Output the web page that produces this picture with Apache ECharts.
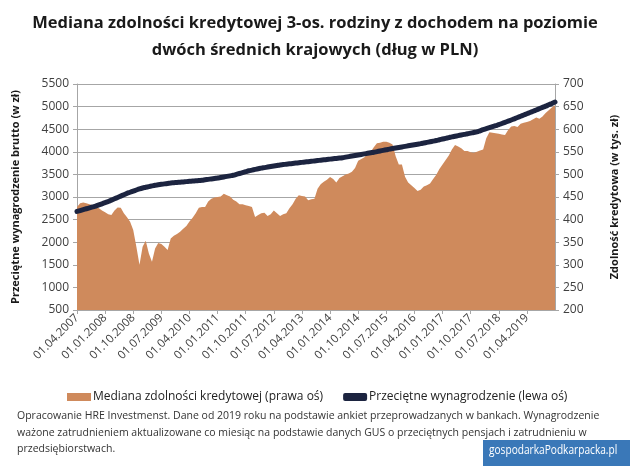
<!DOCTYPE html>
<html>
<head>
<meta charset="utf-8">
<script src="https://cdn.jsdelivr.net/npm/echarts@6/dist/echarts.min.js"></script>
<style>
html,body{margin:0;padding:0;background:#fff;}
#c{width:630px;height:468px;}
</style>
</head>
<body>
<div id="c"></div>
<script>
// Categories: monthly dates from 01.04.2007 to 01.01.2020
var startYear = 2007, startMonth = 4, nMonths = 154;
var categories = [];
for (var k = 0; k < nMonths; k++) {
  var m = (startMonth - 1 + k) % 12 + 1;
  var y = startYear + Math.floor((startMonth - 1 + k) / 12);
  categories.push('01.' + (m < 10 ? '0' + m : m) + '.' + y);
}

// Median credit capacity (thousand PLN, right axis)
var creditCapacity = [
  428,436,438,436,434,432,428,425,420,416,
  412,410,420,427,426,414,405,395,377,340,
  300,340,353,325,307,336,348,346,340,333,
  358,364,368,373,380,386,396,404,414,426,
  428,428,440,446,449,450,451,457,454,451,
  444,440,434,434,432,430,428,406,410,414,
  415,408,412,420,414,408,412,414,425,434,
  446,454,452,451,443,445,446,468,478,484,
  488,494,490,482,492,496,500,502,506,514,
  530,534,538,545,550,560,569,570,572,572,
  570,566,540,522,522,495,482,476,470,463,
  466,473,476,480,490,499,512,522,532,542,
  555,565,562,558,552,552,549,548,550,553,
  555,580,593,592,591,590,588,587,598,606,
  607,605,612,614,616,618,622,626,623,628,
  636,642,648,653
];

// Average gross wage (PLN, left axis)
var avgWage = [
  2680,2700,2720,2740,2760,2780,2800,2825,2850,2875,
  2900,2930,2960,2990,3020,3050,3080,3105,3130,3155,
  3180,3200,3215,3230,3245,3260,3270,3280,3290,3300,
  3310,3316,3322,3328,3334,3340,3346,3352,3358,3364,
  3370,3380,3390,3400,3410,3420,3432,3444,3456,3468,
  3480,3500,3520,3540,3560,3580,3595,3610,3625,3638,
  3650,3662,3674,3686,3698,3710,3718,3726,3734,3742,
  3750,3758,3766,3774,3782,3790,3798,3806,3814,3822,
  3830,3838,3846,3854,3862,3870,3882,3894,3906,3918,
  3930,3942,3954,3966,3978,3990,4004,4018,4032,4046,
  4060,4072,4084,4096,4108,4120,4132,4144,4156,4168,
  4180,4194,4208,4222,4236,4250,4266,4282,4298,4314,
  4330,4344,4358,4372,4386,4400,4413,4426,4440,4465,
  4490,4512,4534,4556,4578,4600,4626,4652,4678,4704,
  4730,4758,4786,4814,4842,4870,4898,4926,4954,4982,
  5010,5040,5070,5100
];

var seriesNames = ['Mediana zdolności kredytowej (prawa oś)', 'Przeciętne wynagrodzenie (lewa oś)'];
var titleLines = ['Mediana zdolności kredytowej 3-os. rodziny z dochodem na poziomie', 'dwóch średnich krajowych (dług w PLN)'];
var leftAxisName = 'Przeciętne wynagrodzenie brutto (w zł)';
var rightAxisName = 'Zdolność kredytowa (w tys. zł)';
var noteLines = [
  'Opracowanie HRE Investmenst. Dane od 2019 roku na podstawie ankiet przeprowadzanych w bankach. Wynagrodzenie',
  'ważone zatrudnieniem aktualizowane co miesiąc na podstawie danych GUS o przeciętnych pensjach i zatrudnieniu w',
  'przedsiębiorstwach.'
];
var watermark = 'gospodarkaPodkarpacka.pl';

var FONT = '"Open Sans", sans-serif';
var AREA = '#cf8a5c';
var LINE = '#1c2440';
var GRID = '#a6a6a6';
var TXT = '#404040';
var LABEL_STEP = 9;

function showTick(idx) { return idx % LABEL_STEP === 0 && idx < nMonths - 1; }

var chart = echarts.init(document.getElementById('c'), null, {renderer: 'canvas'});
chart.setOption({
  animation: false,
  backgroundColor: '#fff',
  textStyle: {fontFamily: FONT},
  title: {
    text: titleLines.join('\n'),
    left: 'center',
    top: 5,
    textStyle: {fontFamily: FONT, fontSize: 16.5, fontWeight: 'bold', color: '#1a1a1a', lineHeight: 27}
  },
  legend: {
    top: 386,
    left: 62,
    itemGap: 20,
    itemWidth: 24,
    itemHeight: 8,
    textStyle: {fontFamily: FONT, fontSize: 12, color: '#222', padding: [0, 0, 0, -3]},
    data: [
      {name: seriesNames[0], icon: 'rect'},
      {name: seriesNames[1], icon: 'roundRect'}
    ]
  },
  grid: {left: 77, right: 75, top: 84, bottom: 158},
  xAxis: {
    type: 'category',
    data: categories,
    boundaryGap: false,
    axisLine: {lineStyle: {color: GRID}},
    axisTick: {interval: showTick, length: 4, lineStyle: {color: GRID}},
    axisLabel: {interval: showTick, rotate: 45, fontSize: 11.5, color: TXT, fontFamily: FONT, margin: 6},
    splitLine: {show: false}
  },
  yAxis: [
    {
      type: 'value', min: 500, max: 5500, interval: 500, position: 'left',
      name: leftAxisName, nameLocation: 'middle', nameGap: 56, nameRotate: 90,
      nameTextStyle: {fontFamily: FONT, fontSize: 11, fontWeight: 'bold', color: '#1a1a1a'},
      axisLine: {show: true, lineStyle: {color: GRID}},
      axisTick: {show: true, length: 4, lineStyle: {color: GRID}},
      axisLabel: {fontSize: 12, color: TXT, fontFamily: FONT, margin: 8, formatter: function (v) { return String(v); }},
      splitLine: {show: true, lineStyle: {color: GRID, width: 1}}
    },
    {
      type: 'value', min: 200, max: 700, interval: 50, position: 'right',
      name: rightAxisName, nameLocation: 'middle', nameGap: 54, nameRotate: 90,
      nameTextStyle: {fontFamily: FONT, fontSize: 11, fontWeight: 'bold', color: '#1a1a1a'},
      axisLine: {show: true, lineStyle: {color: GRID}},
      axisTick: {show: true, length: 4, lineStyle: {color: GRID}},
      axisLabel: {fontSize: 12, color: TXT, fontFamily: FONT, margin: 8, formatter: function (v) { return String(v); }},
      splitLine: {show: false}
    }
  ],
  series: [
    {
      name: seriesNames[0], type: 'line', yAxisIndex: 1, data: creditCapacity,
      symbol: 'none', showSymbol: false, z: 2,
      lineStyle: {width: 0, color: AREA}, itemStyle: {color: AREA},
      areaStyle: {color: AREA, opacity: 1}
    },
    {
      name: seriesNames[1], type: 'line', yAxisIndex: 0, data: avgWage,
      symbol: 'none', showSymbol: false, smooth: true, z: 3,
      lineStyle: {width: 5, color: LINE, cap: 'round'}, itemStyle: {color: LINE}
    }
  ],
  graphic: [
    {type: 'text', left: 17, top: 408, style: {text: noteLines.join('\n'), font: '10.5px ' + FONT, fill: '#333', lineHeight: 16.5}},
    {type: 'rect', shape: {x: 483, y: 440, width: 147, height: 26}, style: {fill: '#3a78b8'}},
    {type: 'text', x: 489, y: 444, scaleX: 0.78, style: {text: watermark, font: '13px ' + FONT, fill: '#fff'}}
  ]
});
</script>
</body>
</html>
